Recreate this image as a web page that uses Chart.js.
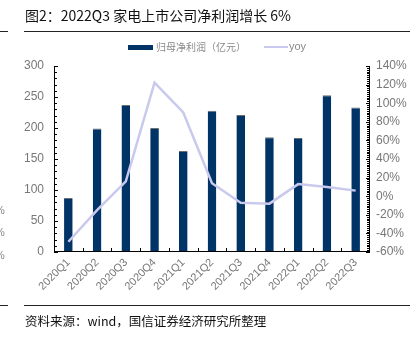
<!DOCTYPE html>
<html>
<head>
<meta charset="utf-8">
<script src="https://cdn.jsdelivr.net/npm/chart.js@4.4.1/dist/chart.umd.min.js"></script>
<style>
    body { margin: 0; width: 420px; height: 337px; background: #fff; position: relative; overflow: hidden; font-family: "Noto Sans CJK SC", sans-serif; }
    #wrap { position: absolute; left: 0; top: 0; width: 420px; height: 337px; }
    .title { position: absolute; left: 25px; top: 5px; font-size: 14px; color: #111; white-space: nowrap; }
    .rule { position: absolute; height: 1px; background: #222; }
    .note { position: absolute; left: 25px; top: 311px; font-size: 12.5px; color: #111; white-space: nowrap; }
    .lg { position: absolute; font-size: 10px; color: #8a8a8a; white-space: nowrap; }
    .stub { position: absolute; left: -5px; font-family: "Liberation Sans", Arial, sans-serif; font-size: 11px; color: #888; }
</style>
</head>
<body>
<div id="wrap"><canvas id="profitChart" width="420" height="337"></canvas></div>
<div class="title">图2：2022Q3 家电上市公司净利润增长 6%</div>
<div class="rule" style="left:0;top:31px;width:8px"></div>
<div class="rule" style="left:24px;top:31px;width:386px"></div>
<div class="rule" style="left:0;top:305px;width:8px"></div>
<div class="rule" style="left:24px;top:305px;width:386px"></div>
<div class="note">资料来源：wind，国信证券经济研究所整理</div>
<!-- bits of the neighbouring chart cut off at the left edge -->
<div class="stub" style="top:204px">%</div>
<div class="stub" style="top:226px">%</div>
<div class="stub" style="top:249px">%</div>
<!-- legend -->
<div style="position:absolute;left:128px;top:45px;width:25px;height:5px;background:#003366"></div>
<div class="lg" style="left:156px;top:39px">归母净利润（亿元）</div>
<div style="position:absolute;left:264px;top:46px;width:24px;height:2px;background:#c9c9ee"></div>
<div class="lg" style="left:289px;top:40px;font-family:'Liberation Sans',Arial,sans-serif;font-size:11px">yoy</div>
<script>
    // categories and values
    const quarters = ['2020Q1', '2020Q2', '2020Q3', '2020Q4', '2021Q1', '2021Q2', '2021Q3', '2021Q4', '2022Q1', '2022Q2', '2022Q3'];
    const netProfit = [87, 199, 237, 200, 163, 228, 221, 185, 184, 253, 233];
    const yoy = [-49, -15, 16, 122, 90, 14, -7, -8, 13, 10, 6];

    // axis tick marks drawn inside the plot area
    const innerTicks = {
        id: 'innerTicks',
        afterDraw(chart) {
            const ctx = chart.ctx;
            const area = chart.chartArea;
            const yl = chart.scales.y, yr = chart.scales.y1;
            ctx.save();
            ctx.strokeStyle = '#000';
            ctx.lineWidth = 1;
            ctx.beginPath();
            // left axis
            ctx.moveTo(area.left + 0.5, area.top);
            ctx.lineTo(area.left + 0.5, area.bottom);
            for (let v = 0; v <= 300; v += 10) {
                let p = Math.round(yl.getPixelForValue(v)) + 0.5;
                ctx.moveTo(area.left, p);
                ctx.lineTo(area.left + (v % 50 === 0 ? 4 : 3), p);
            }
            // right axis
            ctx.moveTo(area.right - 0.5, area.top);
            ctx.lineTo(area.right - 0.5, area.bottom);
            for (let v = -60; v <= 140; v += 2) {
                let p = Math.round(yr.getPixelForValue(v)) + 0.5;
                ctx.moveTo(area.right, p);
                ctx.lineTo(area.right - (v % 20 === 0 ? 4 : 3), p);
            }
            // bottom axis
            ctx.moveTo(area.left, area.bottom - 0.5);
            ctx.lineTo(area.right, area.bottom - 0.5);
            let step = (area.right - area.left) / quarters.length;
            for (let i = 1; i < quarters.length; i++) {
                let p = Math.round(area.left + step * i) + 0.5;
                ctx.moveTo(p, area.bottom);
                ctx.lineTo(p, area.bottom - 4);
            }
            ctx.stroke();
            ctx.restore();
        }
    };

    let ctx = document.getElementById('profitChart').getContext('2d');
    // noinspection JSUnresolvedReference
    let profitChart = new Chart(ctx, {
        type: 'bar',
        data: {
            labels: quarters,
            datasets: [{
                label: '归母净利润（亿元）',
                data: netProfit,
                backgroundColor: '#003366',
                borderColor: '#6d6d6d',
                borderWidth: { top: 1, left: 0, right: 0, bottom: 0 },
                barPercentage: 0.3,
                categoryPercentage: 1,
                yAxisID: 'y',
                order: 2
            }, {
                type: 'line',
                label: 'yoy',
                data: yoy,
                borderColor: '#c9c9ee',
                borderWidth: 2.5,
                pointRadius: 0,
                tension: 0,
                yAxisID: 'y1',
                order: 1
            }]
        },
        options: {
            responsive: false,
            animation: false,
            layout: { padding: { top: 66, left: 0, right: 0, bottom: 0 } },
            plugins: {
                legend: { display: false },
                tooltip: { enabled: false }
            },
            scales: {
                x: {
                    grid: { display: false, drawTicks: false },
                    border: { display: false },
                    ticks: {
                        color: '#777',
                        font: { family: 'Liberation Sans', size: 11 },
                        maxRotation: 45,
                        minRotation: 45,
                        padding: 4
                    },
                    afterFit: (s) => { s.height = 85; }
                },
                y: {
                    position: 'left',
                    min: 0,
                    max: 300,
                    grid: { display: false, drawTicks: false },
                    border: { display: false },
                    ticks: {
                        stepSize: 50,
                        color: '#777',
                        font: { family: 'Liberation Sans', size: 12 },
                        padding: 10
                    },
                    afterFit: (s) => { s.width = 54; }
                },
                y1: {
                    position: 'right',
                    min: -60,
                    max: 140,
                    grid: { display: false, drawTicks: false },
                    border: { display: false },
                    ticks: {
                        stepSize: 20,
                        color: '#777',
                        font: { family: 'Liberation Sans', size: 12 },
                        padding: 6,
                        callback: (v) => v + '%'
                    },
                    afterFit: (s) => { s.width = 50; }
                }
            }
        },
        plugins: [innerTicks]
    });
</script>
</body>
</html>
